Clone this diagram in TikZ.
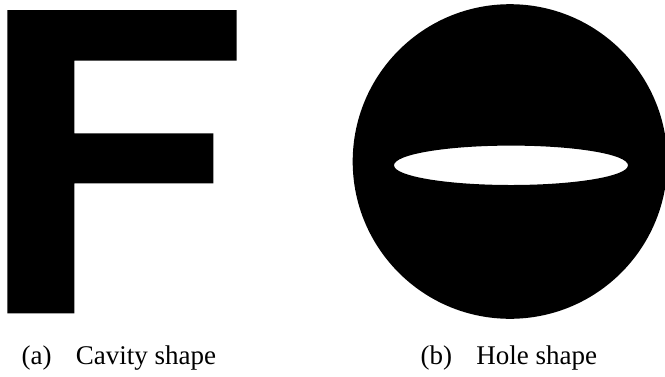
\documentclass[tikz,border=0pt]{standalone}
\usepackage{fontspec}
\setmainfont{Liberation Serif}
\usetikzlibrary{positioning}

\begin{document}
\begin{tikzpicture}[x=1pt,y=-1pt,
  capt/.style={anchor=base west,inner sep=0pt,font=\fontsize{27}{30}\selectfont}]
\useasboundingbox (0,0) rectangle (665,376);
% cavity: the letter F
\fill (7.3,10) -- (236.7,10) -- (236.7,60.7) -- (74.3,60.7) -- (74.3,133.3)
  -- (213.3,133.3) -- (213.3,183.3) -- (74.3,183.3) -- (74.3,313.3) -- (7.3,313.3) -- cycle;
% hole: disc with a flat slot
\fill[even odd rule] (510,161.5) circle (157.3) (511,165.3) ellipse (117 and 19.7);
\node[capt] (capa) at (21.5,364) {(a)\hspace{0.9em}Cavity shape};
\node[capt] (capb) at (420.5,364) {(b)\hspace{0.9em}Hole shape};
\end{tikzpicture}
\end{document}
